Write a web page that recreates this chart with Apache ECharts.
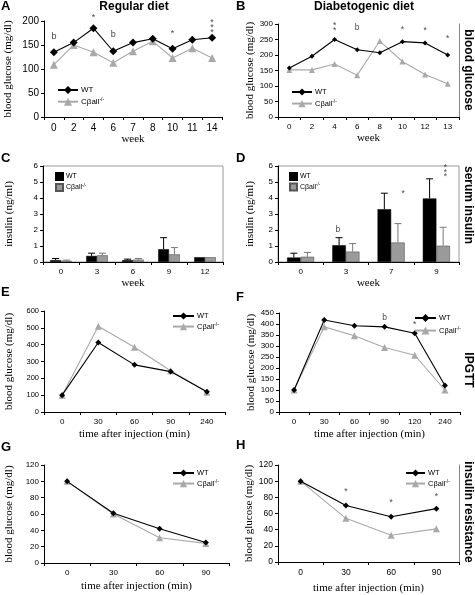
<!DOCTYPE html>
<html><head><meta charset="utf-8">
<script src="https://cdn.jsdelivr.net/npm/echarts@6/dist/echarts.min.js"></script>
<style>html,body{margin:0;padding:0;background:#fff}#c{width:475px;height:595px}</style>
</head><body><div id="c"></div>
<script>
// ---------- data ----------
const weeksA = ['0','2','4','6','7','8','10','11','14'];
const wtA = [135,155,185,137,155,163,142,161,165];
const koA = [109,150,135,113,137,158,123,143,123];
const annotA = [['0',168,'b'],['4',208,'*'],['6',171,'b'],['10',174,'*'],['14',186,'***']];

const weeksB = ['0','2','4','6','8','10','12','13'];
const wtB = [158,196,250,217,207,243,239,200];
const koB = [152,152,171,135,245,179,137,107];
const annotB = [['4',287,'**'],['6',289,'b'],['10',282,'*'],['12',279,'*'],['13',252,'*']];

const weeksC = ['0','3','6','9','12'];
const wtC = [0.12,0.38,0.12,0.80,0.30];
const wtCErr = [0.10,0.17,0.06,0.72,0];
const koC = [0.08,0.42,0.15,0.48,0.30];
const koCErr = [0.04,0.13,0.07,0.42,0];

const weeksD = ['0','3','7','9'];
const wtD = [0.28,1.05,3.30,3.97];
const wtDErr = [0.27,0.47,1.00,1.23];
const koD = [0.33,0.65,1.22,1.02];
const koDErr = [0.27,0.50,1.18,1.15];
const annotD = [['3',2.0,'b'],['7',4.26,'*'],['9',5.6,'***']];

const timesE = ['0','30','60','90','240'];
const wtE = [100,413,280,240,120];
const koE = [100,510,385,245,118];

const timesF = ['0','30','60','90','120','240'];
const wtF = [100,418,392,387,358,120];
const koF = [100,387,347,293,258,100];
const annotF = [['90',427,'b'],['120',396,'*']];

const timesG = ['0','30','60','90'];
const wtG = [100,61,42,25];
const koG = [100,60,31,24];

const timesH = ['0','30','60','90'];
const wtH = [100,70,56,66];
const koH = [100,54,33,41];
const annotH = [['30',87,'*'],['60',74,'*'],['90',81,'*']];

const KO = 'Cβall-/-';

// ---------- layout / style ----------
const SANS = '"Liberation Sans", Arial, sans-serif';
const SERIF = '"Liberation Serif", "Times New Roman", serif';
const BLACK = '#000', GRAY = '#a9a9a9', BARGRAY = '#9a9a9a';
const annotOffsetD = [[-8,0],[12,0],[9,0]];

const grids = [
  {left:44, top:21, width:178, height:96},
  {left:278, top:24, width:181, height:93},
  {left:43, top:166, width:180, height:96, show:true, borderColor:'#999', borderWidth:1},
  {left:278, top:166, width:181, height:96, show:true, borderColor:'#999', borderWidth:1},
  {left:44, top:311, width:181, height:101},
  {left:279, top:313, width:181, height:99},
  {left:44, top:465, width:185, height:98},
  {left:278, top:465, width:181, height:98}
];

function xAx(g, cats, name, fs, gap) {
  return {type:'category', gridIndex:g, data:cats, boundaryGap:true,
    axisLine:{lineStyle:{color:BLACK, width:1}}, axisTick:{show:true, length:3, lineStyle:{color:BLACK}},
    axisLabel:{fontSize:fs, color:BLACK, fontFamily:SANS, margin:6},
    name:name, nameLocation:'middle', nameGap:gap,
    nameTextStyle:{fontFamily:SERIF, fontSize:11, color:BLACK}, splitLine:{show:false}};
}
function yAx(g, max, interval, name, fs, gap) {
  return {type:'value', gridIndex:g, min:0, max:max, interval:interval,
    axisLine:{show:true, lineStyle:{color:BLACK, width:1}}, axisTick:{show:true, length:3, lineStyle:{color:BLACK}},
    axisLabel:{fontSize:fs, color:BLACK, fontFamily:SANS, margin:5},
    name:name, nameLocation:'middle', nameGap:gap,
    nameTextStyle:{fontFamily:SERIF, fontSize:11, color:BLACK}, splitLine:{show:false}};
}
function rightLine(g) {
  return {type:'value', gridIndex:g, position:'right', min:0, max:1,
    axisLine:{show:true, lineStyle:{color:'#888', width:1}}, axisTick:{show:false}, axisLabel:{show:false}, splitLine:{show:false}};
}

const xAxes = [
  xAx(0, weeksA, 'week', 10, 16),
  xAx(1, weeksB, 'week', 8, 16),
  xAx(2, weeksC, 'week', 8, 16),
  xAx(3, weeksD, 'week', 8, 16),
  xAx(4, timesE, 'time after injection (min)', 8, 17),
  xAx(5, timesF, 'time after injection (min)', 8, 17),
  xAx(6, timesG, 'time after injection (min)', 8, 18),
  xAx(7, timesH, 'time after injection (min)', 8.5, 21)
];
const yAxes = [
  yAx(0, 200, 50, 'blood glucose (mg/dl)', 10, 30),
  yAx(1, 300, 50, 'blood glucose (mg/dl)', 8, 22),
  yAx(2, 6, 1, 'insulin (ng/ml)', 8, 28),
  yAx(3, 6, 1, 'insulin (ng/ml)', 8, 22),
  yAx(4, 600, 100, 'blood glucose (mg/dl)', 7.5, 29),
  yAx(5, 450, 50, 'blood glucose (mg/dl)', 8, 22),
  yAx(6, 120, 20, 'blood glucose (mg/dl)', 8, 29),
  yAx(7, 120, 20, 'blood glucose (mg/dl)', 8.5, 22),
  rightLine(1),
  rightLine(7)
];

const series = [];
function lines(g, tag, wt, ko, symW, symK) {
  series.push({type:'line', name:'WT|'+tag, xAxisIndex:g, yAxisIndex:g, data:wt,
    symbol:'diamond', symbolSize:symW, showAllSymbol:true,
    itemStyle:{color:BLACK}, lineStyle:{color:BLACK, width:1.1}, animation:false, z:3});
  series.push({type:'line', name:KO+'|'+tag, xAxisIndex:g, yAxisIndex:g, data:ko,
    symbol:'triangle', symbolSize:symK, showAllSymbol:true,
    itemStyle:{color:GRAY}, lineStyle:{color:GRAY, width:1.1}, animation:false, z:2});
}
function annots(g, arr, fs, offsets) {
  series.push({type:'scatter', xAxisIndex:g, yAxisIndex:g, symbolSize:0, clip:false, animation:false, silent:true,
    data: arr.map((a,i)=>({value:[a[0],a[1]], label:offsets?{offset:offsets[i]}:undefined})),
    label:{show:true, position:'inside', fontFamily:SANS, fontSize:fs, color:'#111', lineHeight:fs*0.55,
      formatter:(p)=>arr[p.dataIndex][2].split('').join('\n')}});
}
function bars(g, tag, wt, wtE, ko, koE) {
  series.push({type:'bar', name:'WT|'+tag, xAxisIndex:g, yAxisIndex:g, data:wt, barWidth:'30%', barGap:'0%',
    itemStyle:{color:BLACK, borderColor:BLACK, borderWidth:0.5}, animation:false});
  series.push({type:'bar', name:KO+'|'+tag, xAxisIndex:g, yAxisIndex:g, data:ko, barWidth:'30%', barGap:'0%',
    itemStyle:{color:BARGRAY, borderColor:'#555', borderWidth:0.6}, animation:false});
  [[wt,wtE,-1,'#000'],[ko,koE,1,'#777']].forEach(([v,e,sgn,col])=>{
    series.push({type:'custom', xAxisIndex:g, yAxisIndex:g, animation:false, silent:true, z:5,
      data: v.map((val,i)=>[i,val,e[i]]),
      renderItem:(params, api)=>{
        const err = api.value(2);
        if (!err) return null;
        const i = api.value(0), val = api.value(1);
        const band = api.size([1,0])[0];
        const p0 = api.coord([i,val]), p1 = api.coord([i,val+err]);
        const x = p0[0] + sgn*band*0.15;
        return {type:'group', children:[
          {type:'line', shape:{x1:x,y1:p0[1],x2:x,y2:p1[1]}, style:{stroke:col, lineWidth:1}},
          {type:'line', shape:{x1:x-3.5,y1:p1[1],x2:x+3.5,y2:p1[1]}, style:{stroke:col, lineWidth:1}}
        ]};
      }});
  });
}

lines(0,'A',wtA,koA,8,8); annots(0,annotA,9);
lines(1,'B',wtB,koB,5,6); annots(1,annotB,8.5);
bars(2,'C',wtC,wtCErr,koC,koCErr);
bars(3,'D',wtD,wtDErr,koD,koDErr); annots(3,annotD,8.5,annotOffsetD);
lines(4,'E',wtE,koE,6,7);
lines(5,'F',wtF,koF,6,7); annots(5,annotF,8.5);
lines(6,'G',wtG,koG,6,7);
lines(7,'H',wtH,koH,6,7); annots(7,annotH,8.5);

function legend(tag, left, top, w, h, gap, fs, icon) {
  return {left:left, top:top, orient:'vertical', itemWidth:w, itemHeight:h, itemGap:gap, padding:0,
    selectedMode:false, icon:icon, data:['WT|'+tag, KO+'|'+tag],
    formatter:(n)=>{const b=n.split('|')[0]; return b==='WT'?'WT':'Cβall{s|-/-}';},
    textStyle:{fontFamily:SANS, fontSize:fs, color:BLACK, padding:[0,0,0,-2],
      rich:{s:{fontSize:fs*0.65, fontFamily:SANS, color:BLACK, padding:[0,0,fs*0.55,0]}}}};
}
const legends = [
  legend('A', 57, 86, 20, 10, 3, 8),
  legend('B', 291, 88, 20, 9, 3, 7.5),
  legend('C', 55, 172, 7, 7, 2, 7, 'rect'),
  legend('D', 289, 172, 7, 7, 1.5, 7, 'rect'),
  legend('E', 172, 312, 21, 9, 2, 7.5),
  legend('F', 414, 314, 21, 10, 4, 7.5),
  legend('G', 172, 469, 21, 9, 2, 7.5),
  legend('H', 405, 469, 19, 9, 2, 7.5)
];

function txt(x, y, s, font, extra) {
  return Object.assign({type:'text', x:x, y:y, silent:true,
    style:{text:s, font:font, fill:BLACK, align:'left', verticalAlign:'top'}}, extra||{});
}
function sideLabel(x, y, s) {
  return {type:'text', x:x, y:y, rotation:-Math.PI/2, silent:true,
    style:{text:s, font:'bold 12px '+SANS, fill:BLACK, align:'center', verticalAlign:'middle'}};
}
const graphics = [
  txt(1, 0, 'A', 'bold 13px '+SANS), txt(236, 0, 'B', 'bold 13px '+SANS),
  txt(1, 152, 'C', 'bold 13px '+SANS), txt(236, 152, 'D', 'bold 13px '+SANS),
  txt(1, 286, 'E', 'bold 13px '+SANS), txt(236, 291, 'F', 'bold 13px '+SANS),
  txt(1, 441, 'G', 'bold 13px '+SANS), txt(236, 439, 'H', 'bold 13px '+SANS),
  {type:'text', x:134, y:1, silent:true, style:{text:'Regular diet', font:'bold 12px '+SANS, fill:BLACK, align:'center', verticalAlign:'top'}},
  {type:'text', x:364, y:1, silent:true, style:{text:'Diabetogenic diet', font:'bold 12px '+SANS, fill:BLACK, align:'center', verticalAlign:'top'}},
  sideLabel(468, 70, 'blood glucose'),
  sideLabel(468, 205, 'serum insulin'),
  sideLabel(468, 370, 'IPGTT'),
  sideLabel(468, 512, 'insulin resistance')
];

const chart = echarts.init(document.getElementById('c'), null, {renderer:'canvas'});
chart.setOption({
  animation:false, backgroundColor:'#fff',
  grid:grids, xAxis:xAxes, yAxis:yAxes, series:series, legend:legends, graphic:graphics
});
</script></body></html>
